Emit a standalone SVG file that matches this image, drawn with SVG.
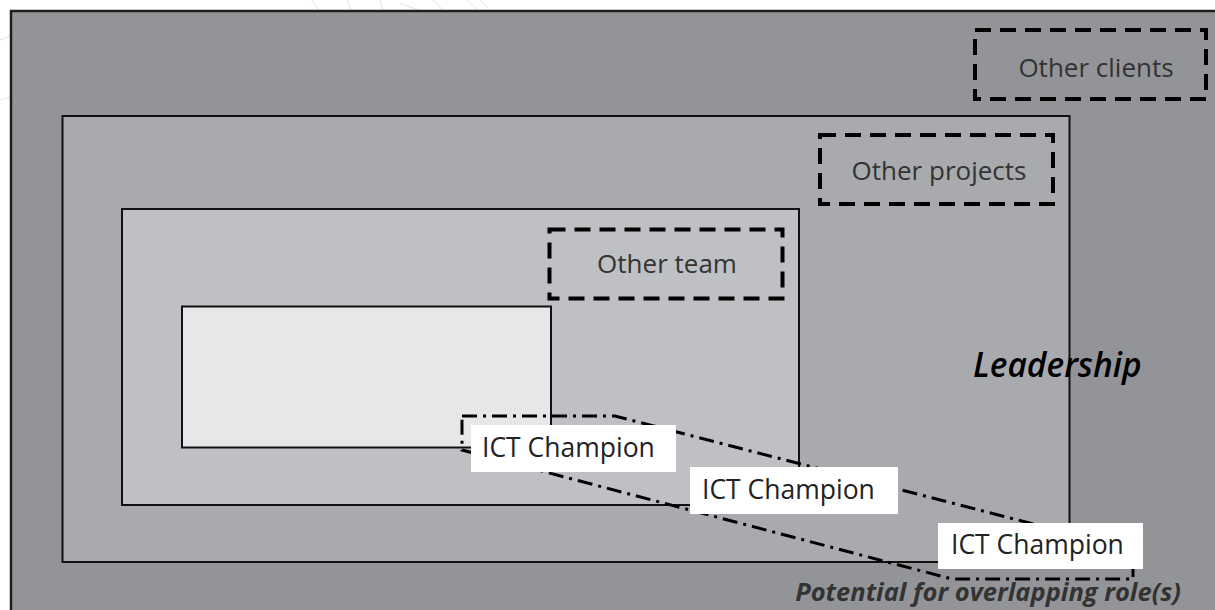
<svg xmlns="http://www.w3.org/2000/svg" width="1215" height="610" viewBox="0 0 1215 610">
  <style>
    .frame { stroke: #1e1e1e; stroke-width: 2.5; }
    .zone { stroke: #111; stroke-width: 2; }
    .scope { fill: none; stroke: #000; stroke-width: 4; stroke-dasharray: 16 9; }
    .scope-label { font-family: "Open Sans", "Liberation Sans", sans-serif; font-size: 26px; fill: #333; text-anchor: middle; }
    .tag-box { fill: #fff; }
    .tag { font-family: "Open Sans", "Liberation Sans", sans-serif; font-size: 26.5px; fill: #222; }
    .overlap { fill: none; stroke: #000; stroke-width: 3; stroke-dasharray: 15 6 3 6; }
    .faint { fill: none; stroke: #e2e2e2; stroke-width: 1; }
  </style>

  <rect width="1215" height="610" fill="#fff"/>

  <!-- light background pattern -->
  <g id="backdrop">
    <path class="faint" d="M312 0 L318 10 M347 0 L351 10 M380 0 L383 10 M400 3 L418 10 M433 0 L443 10 M467 0 L478 10 M480 0 L488 8"/>
    <path class="faint" d="M0 40 L10 36 M0 100 L10 97"/>
  </g>

  <!-- nested organisational levels -->
  <g id="level-clients">
    <rect class="frame" x="11" y="11" width="1220" height="620" fill="#939498"/>
  </g>
  <g id="level-projects">
    <rect class="zone" x="62.5" y="116" width="1007" height="446" fill="#a9aaae"/>
  </g>
  <g id="level-team">
    <rect class="zone" x="122" y="209" width="677" height="296" fill="#bfc0c3"/>
  </g>
  <g id="level-core">
    <rect class="zone" x="182" y="306.5" width="369" height="141" fill="#e6e7e9"/>
  </g>

  <!-- external scopes -->
  <g id="other-clients">
    <rect class="scope" x="975" y="30" width="231" height="69"/>
    <text class="scope-label" x="1096" y="77">Other clients</text>
  </g>
  <g id="other-projects">
    <rect class="scope" x="820" y="135" width="233" height="69"/>
    <text class="scope-label" x="939" y="180">Other projects</text>
  </g>
  <g id="other-team">
    <rect class="scope" x="549.5" y="229.5" width="233" height="69"/>
    <text class="scope-label" x="667" y="273">Other team</text>
  </g>

  <g id="leadership">
    <text x="973" y="377" font-family="'Open Sans', 'Liberation Sans', sans-serif" font-size="33.5" font-weight="600" font-style="italic" fill="#000">Leadership</text>
  </g>

  <!-- overlapping roles band -->
  <g id="connectors">
    <path class="overlap" d="M462 416 H615 L1045 527 H1133 V579 H952 L462 450 Z"/>
  </g>

  <g id="champion-1">
    <rect class="tag-box" x="471" y="425" width="205" height="47"/>
    <text class="tag" x="482" y="457">ICT Champion</text>
  </g>
  <g id="champion-2">
    <rect class="tag-box" x="690" y="467" width="208" height="47"/>
    <text class="tag" x="702" y="499">ICT Champion</text>
  </g>
  <g id="champion-3">
    <rect class="tag-box" x="938" y="523" width="205" height="46"/>
    <text class="tag" x="951" y="554">ICT Champion</text>
  </g>

  <g id="caption">
    <text x="1181" y="601" text-anchor="end" font-family="'Open Sans', 'Liberation Sans', sans-serif" font-size="25.5" font-weight="bold" font-style="italic" fill="#333">Potential for overlapping role(s)</text>
  </g>
</svg>
